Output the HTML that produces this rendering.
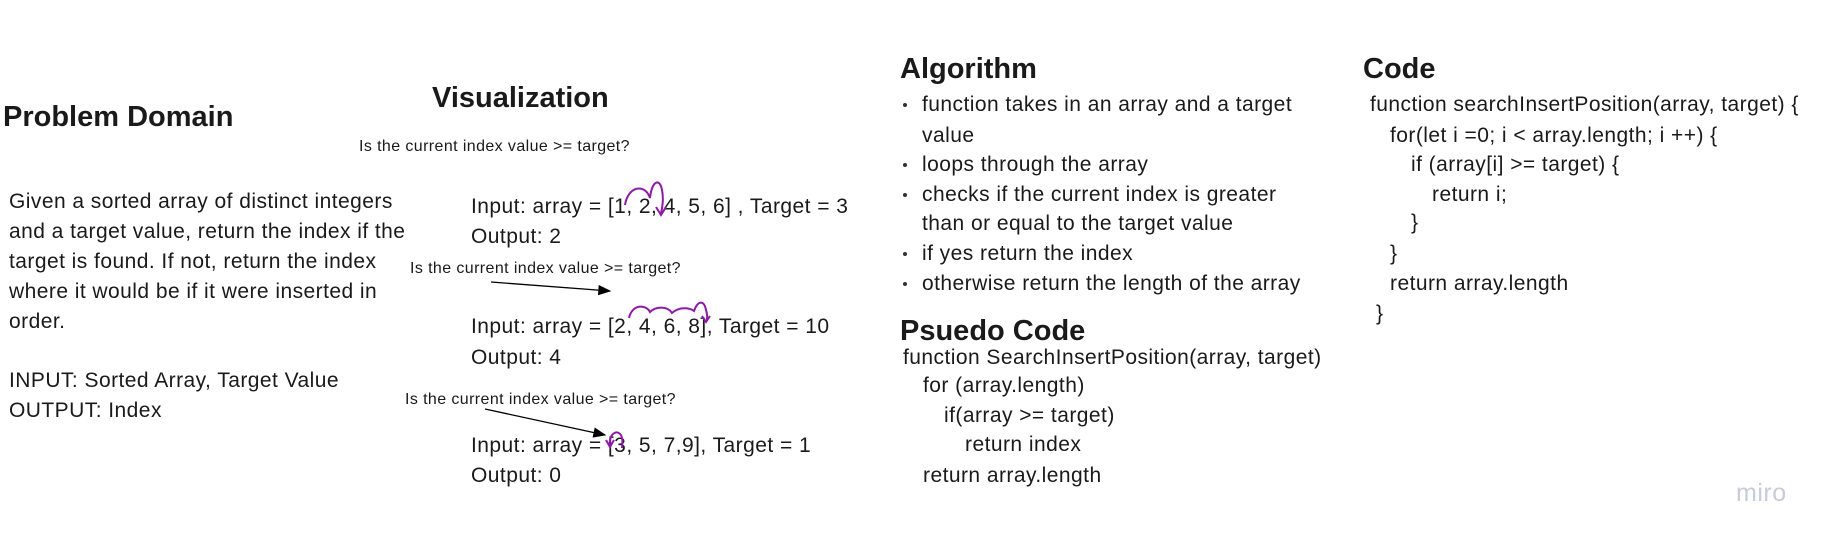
<!DOCTYPE html>
<html><head><meta charset="utf-8"><style>
body{margin:0;width:1832px;height:545px;background:#fff;position:relative;overflow:hidden;font-family:"Liberation Sans",sans-serif;color:#1a1a1a}
.t{position:absolute;white-space:nowrap;line-height:30px;height:30px;font-size:21px;letter-spacing:0.45px}
.h{position:absolute;white-space:nowrap;font-weight:bold;font-size:29px;line-height:34px}
.s{position:absolute;white-space:nowrap;font-size:16px;line-height:18px;letter-spacing:0.4px}
.b{position:absolute;width:4px;height:4px;border-radius:2px;background:#333}
</style></head><body>
<div class="h" style="left:3px;top:100px">Problem Domain</div>
<div class="h" style="left:432px;top:81px">Visualization</div>
<div class="h" style="left:900px;top:52px">Algorithm</div>
<div class="h" style="left:900px;top:314px">Psuedo Code</div>
<div class="h" style="left:1363px;top:52px">Code</div>

<div class="t" style="left:9px;top:187px">Given a sorted array of distinct integers</div>
<div class="t" style="left:9px;top:217px">and a target value, return the index if the</div>
<div class="t" style="left:9px;top:247px">target is found. If not, return the index</div>
<div class="t" style="left:9px;top:277px">where it would be if it were inserted in</div>
<div class="t" style="left:9px;top:307px">order.</div>
<div class="t" style="left:9px;top:366px">INPUT: Sorted Array, Target Value</div>
<div class="t" style="left:9px;top:396px">OUTPUT: Index</div>

<div class="s" style="left:359px;top:138px">Is the current index value &gt;= target?</div>
<div class="t" style="left:471px;top:192px">Input: array = [1, 2, 4, 5, 6] , Target = 3</div>
<div class="t" style="left:471px;top:222px">Output: 2</div>
<div class="s" style="left:410px;top:260px">Is the current index value &gt;= target?</div>
<div class="t" style="left:471px;top:312px">Input: array = [2, 4, 6, 8], Target = 10</div>
<div class="t" style="left:471px;top:343px">Output: 4</div>
<div class="s" style="left:405px;top:391px">Is the current index value &gt;= target?</div>
<div class="t" style="left:471px;top:431px">Input: array = [3, 5, 7,9], Target = 1</div>
<div class="t" style="left:471px;top:461px">Output: 0</div>

<svg style="position:absolute;left:0;top:0" width="1832" height="545">
<defs><marker id="a" markerWidth="10" markerHeight="8" refX="9" refY="4" orient="auto"><path d="M0,0 L10,4 L0,8 z" fill="#000"/></marker></defs>
<line x1="491" y1="282" x2="610" y2="291" stroke="#000" stroke-width="1.3" marker-end="url(#a)"/>
<line x1="485" y1="409" x2="605" y2="435" stroke="#000" stroke-width="1.3" marker-end="url(#a)"/>
<g fill="none" stroke="#8e1aa8" stroke-width="2">
<path d="M625,205 C628,186 645,183 650,198 C652,180 660,178 662,190 C664,200 662,208 661,214"/>
<path d="M656,207 L661,215 L666,207"/>
<path d="M629,318 C632,304 646,304 650,312 C656,306 668,306 672,313 C680,306 690,308 694,311 C698,300 704,300 706,310 C708,316 707,320 706,322"/>
<path d="M702,316 L706,322 L710,316"/>
<path d="M610,446 C608,432 620,428 622,438 C623,442 622,446 622,448"/>
<path d="M606,440 L610,447 L614,440"/>
</g>
</svg>

<div class="b" style="left:903px;top:103px"></div>
<div class="t" style="left:922px;top:90px">function takes in an array and a target</div>
<div class="t" style="left:922px;top:121px">value</div>
<div class="b" style="left:903px;top:163px"></div>
<div class="t" style="left:922px;top:150px">loops through the array</div>
<div class="b" style="left:903px;top:193px"></div>
<div class="t" style="left:922px;top:180px">checks if the current index is greater</div>
<div class="t" style="left:922px;top:209px">than or equal to the target value</div>
<div class="b" style="left:903px;top:252px"></div>
<div class="t" style="left:922px;top:239px">if yes return the index</div>
<div class="b" style="left:903px;top:282px"></div>
<div class="t" style="left:922px;top:269px">otherwise return the length of the array</div>

<div class="t" style="left:903px;top:343px">function SearchInsertPosition(array, target)</div>
<div class="t" style="left:923px;top:371px">for (array.length)</div>
<div class="t" style="left:944px;top:401px">if(array &gt;= target)</div>
<div class="t" style="left:965px;top:430px">return index</div>
<div class="t" style="left:923px;top:461px">return array.length</div>

<div class="t" style="left:1370px;top:90px">function searchInsertPosition(array, target) {</div>
<div class="t" style="left:1390px;top:121px">for(let i =0; i &lt; array.length; i ++) {</div>
<div class="t" style="left:1411px;top:150px">if (array[i] &gt;= target) {</div>
<div class="t" style="left:1432px;top:180px">return i;</div>
<div class="t" style="left:1411px;top:208px">}</div>
<div class="t" style="left:1390px;top:239px">}</div>
<div class="t" style="left:1390px;top:269px">return array.length</div>
<div class="t" style="left:1376px;top:299px">}</div>

<div style="position:absolute;left:1736px;top:478px;font-size:25px;line-height:30px;color:#c8cbd8;letter-spacing:0.5px">miro</div>
</body></html>
